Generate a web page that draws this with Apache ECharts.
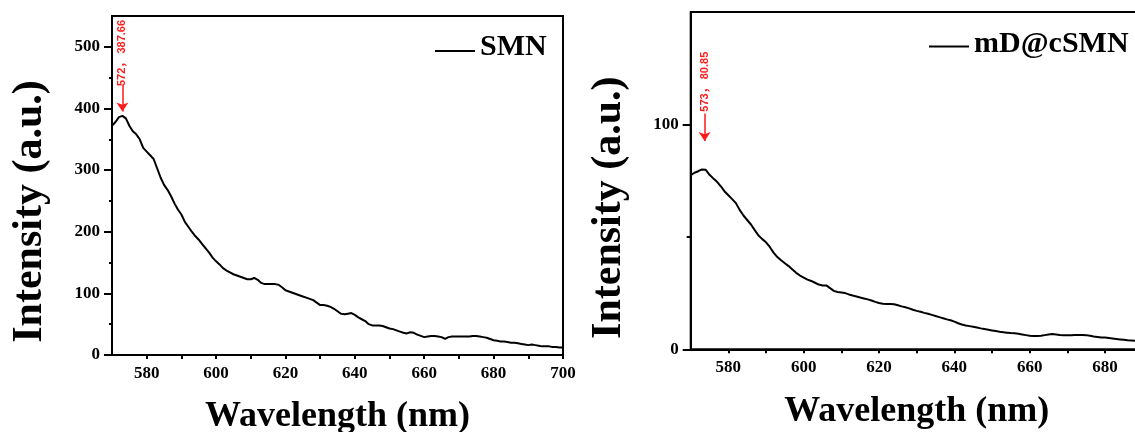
<!DOCTYPE html>
<html><head><meta charset="utf-8">
<script src="https://cdn.jsdelivr.net/npm/echarts@6/dist/echarts.min.js"></script>
<style>html,body{margin:0;padding:0;background:#fff;overflow:hidden}#c{width:1135px;height:432px}</style>
</head><body><div id="c"></div><script>
// ---- data ----
const seriesNames = ['SMN', 'mD@cSMN'];
const wavelengthSMN = [570,571,572,573,574,575,576,577,578,579,580,581,582,583,584,585,586,587,588,589,590,591,592,593,594,595,596,597,598,599,600,601,602,603,604,605,606,607,608,609,610,611,612,613,614,615,616,617,618,619,620,621,622,623,624,625,626,627,628,629,630,631,632,633,634,635,636,637,638,639,640,641,642,643,644,645,646,647,648,649,650,651,652,653,654,655,656,657,658,659,660,661,662,663,664,665,666,667,668,669,670,671,672,673,674,675,676,677,678,679,680,681,682,683,684,685,686,687,688,689,690,691,692,693,694,695,696,697,698,699,700];
const intensitySMN = [372,378,386,388,384,372,363,358,350,336,
  330,324,318,303,288,276,268,258,246,236,
  228,216,208,200,193,187,180,173,166,158,
  152,147,141,137,134,131,129,127,125,123,
  123,125,122,117,115,115,115,115,114,110,
  105,103,101,99,97,95,93,91,89,85,
  81,81,80,78,75,71,67,66,67,68,
  65,61,58,55,50,48,48,48,47,45,
  43,42,40,38,36,35,37,36,33,31,
  29,30,31,31,30,29,26,29,30,30,
  30,30,30,30,31,31,30,29,28,26,
  24,23,22,22,21,20,20,19,18,17,
  16,17,16,15,14,14,14,13,13,12,12];
const wavelengthMD = [570,571,572,573,574,575,576,577,578,579,580,581,582,583,584,585,586,587,588,589,590,591,592,593,594,595,596,597,598,599,600,601,602,603,604,605,606,607,608,609,610,611,612,613,614,615,616,617,618,619,620,621,622,623,624,625,626,627,628,629,630,631,632,633,634,635,636,637,638,639,640,641,642,643,644,645,646,647,648,649,650,651,652,653,654,655,656,657,658,659,660,661,662,663,664,665,666,667,668,669,670,671,672,673,674,675,676,677,678,679,680,681,682,683,684,685,686,687,688];
const intensityMD = [77.4,78.5,79.2,80.0,79.8,77.6,76.0,74.5,72.5,70.2,
  68.5,66.8,65.0,62.0,59.5,57.5,55.5,53.0,50.6,49.0,
  47.6,45.5,43.0,41.0,39.6,38.3,37.0,35.5,34.0,32.8,
  31.9,31.0,30.4,29.6,28.8,28.4,28.4,27.2,26.0,25.5,
  25.3,25.0,24.4,23.9,23.5,23.0,22.6,22.2,21.7,21.1,
  20.6,20.3,20.2,20.1,20.0,19.6,19.1,18.7,18.2,17.6,
  17.1,16.7,16.2,15.8,15.3,14.8,14.3,13.8,13.3,12.9,
  12.3,11.6,11.0,10.6,10.3,10.0,9.7,9.3,9.0,8.7,
  8.4,8.1,7.8,7.6,7.4,7.2,7.1,6.9,6.6,6.3,
  6.0,5.9,5.9,6.0,6.3,6.6,6.8,6.6,6.4,6.3,
  6.3,6.3,6.4,6.4,6.4,6.3,6.0,5.7,5.5,5.3,
  5.2,5.0,4.8,4.6,4.4,4.2,4.0,3.9,3.8];
const xLabelsSMN = [580,600,620,640,660,680,700];
const xTicksSMN = [580,590,600,610,620,630,640,650,660,670,680,690,700];
const yLabelsSMN = [0,100,200,300,400,500];
const yMinorSMN = [50,150,250,350,450];
const xLabelsMD = [580,600,620,640,660,680];
const xTicksMD = [580,590,600,610,620,630,640,650,660,670,680,690];
const yLabelsMD = [0,100];
const yMinorMD = [50];
// peak annotations: arrow x, arrow start/end values, label centre value, label text
const peakSMN = {x: 573, from: 439, to: 395, textAt: 490, text: '572， 387.66'};
const peakMD = {x: 573.7, from: 104.9, to: 92.6, textAt: 119, text: '573， 80.85'};

// ---- chart ----
const SERIF = "'Liberation Serif','Times New Roman',serif";
const black = '#000';
const tickFont = {fontSize: 17, fontWeight: 'bold', fontFamily: SERIF, color: black};
function xAxis(grid, max, labels, ticks) {
  return {gridIndex: grid, type: 'value', min: 570, max: max,
    axisLine: {show: true, lineStyle: {color: black, width: 2}},
    axisTick: {show: true, inside: false, customValues: ticks, length: 4, lineStyle: {color: black, width: 2}},
    axisLabel: Object.assign({customValues: labels, margin: 10}, tickFont),
    splitLine: {show: false},
    name: 'Wavelength (nm)', nameLocation: 'middle', nameGap: 44,
    nameTextStyle: {fontSize: 36, fontWeight: 'bold', fontFamily: SERIF, color: black}};
}
function yAxis(grid, max, labels, shift) {
  return {gridIndex: grid, type: 'value', min: 0, max: max, position: 'left',
    axisLine: {show: true, lineStyle: {color: black, width: 2}},
    axisTick: {show: true, inside: false, customValues: labels, length: 8, lineStyle: {color: black, width: 2}},
    axisLabel: Object.assign({customValues: labels, margin: 12}, tickFont),
    splitLine: {show: false},
    name: 'Intensity (a.u.)', nameLocation: 'middle', nameGap: 61,
    nameTextStyle: {fontSize: 42, fontWeight: 'bold', fontFamily: SERIF, color: black, padding: [0, shift, 0, 0]}};
}
function yMinor(grid, max, ticks, len) {
  return {gridIndex: grid, type: 'value', min: 0, max: max, position: 'left',
    axisLine: {show: false}, axisLabel: {show: false}, splitLine: {show: false},
    axisTick: {show: true, inside: false, customValues: ticks, length: len, lineStyle: {color: black, width: 2}}};
}
function zip(a, b) { return a.map((v, i) => [v, b[i]]); }
function peakMarks(p) {
  return {
    markLine: {silent: true, symbol: ['none', 'arrow'], symbolSize: 9, animation: false,
      lineStyle: {color: '#ff1a1a', width: 1.5, type: 'solid'}, label: {show: false},
      data: [[{coord: [p.x, p.from]}, {coord: [p.x, p.to]}]]},
    markPoint: {silent: true, symbol: 'circle', symbolSize: 0, animation: false,
      label: {show: true, formatter: p.text, rotate: 90, position: 'inside', color: '#ff1a1a',
        fontSize: 11, fontWeight: 'bold', fontFamily: "'Liberation Sans','Noto Sans CJK SC',sans-serif"},
      data: [{coord: [p.x, p.textAt]}]}
  };
}
const legendText = {fontSize: 30, fontWeight: 'bold', fontFamily: SERIF, color: black};
const chart = echarts.init(document.getElementById('c'));
chart.setOption({
  animation: false,
  backgroundColor: '#fff',
  grid: [
    {left: 112, top: 16, width: 451, height: 339, show: true, borderColor: black, borderWidth: 2, outerBoundsMode: 'none', containLabel: false},
    {left: 690.7, top: 12, width: 452, height: 337.3, show: true, borderColor: black, borderWidth: 2, outerBoundsMode: 'none', containLabel: false}
  ],
  legend: [
    {data: [seriesNames[0]], left: 435, top: 32, padding: 0, itemWidth: 40, itemHeight: 10, textStyle: legendText,
      icon: 'path://M0,0 M40,0 M0,8 L40,8 L40,10 L0,10 Z'},
    {data: [seriesNames[1]], left: 929, top: 29, padding: 0, itemWidth: 40, itemHeight: 10, textStyle: legendText,
      icon: 'path://M0,0 M40,10 M0,6.6 L40,6.6 L40,8.6 L0,8.6 Z'}
  ],
  xAxis: [xAxis(0, 700, xLabelsSMN, xTicksSMN), xAxis(1, 690, xLabelsMD, xTicksMD)],
  yAxis: [yAxis(0, 550, yLabelsSMN, 52), yMinor(0, 550, yMinorSMN, 3), yAxis(1, 150, yLabelsMD, 54), yMinor(1, 150, yMinorMD, 4)],
  series: [
    Object.assign({name: seriesNames[0], type: 'line', xAxisIndex: 0, yAxisIndex: 0, data: zip(wavelengthSMN, intensitySMN),
      showSymbol: false, lineStyle: {color: black, width: 2}, itemStyle: {color: black}}, peakMarks(peakSMN)),
    Object.assign({name: seriesNames[1], type: 'line', xAxisIndex: 1, yAxisIndex: 2, data: zip(wavelengthMD, intensityMD),
      showSymbol: false, lineStyle: {color: black, width: 2}, itemStyle: {color: black}}, peakMarks(peakMD))
  ]
});
</script></body></html>
